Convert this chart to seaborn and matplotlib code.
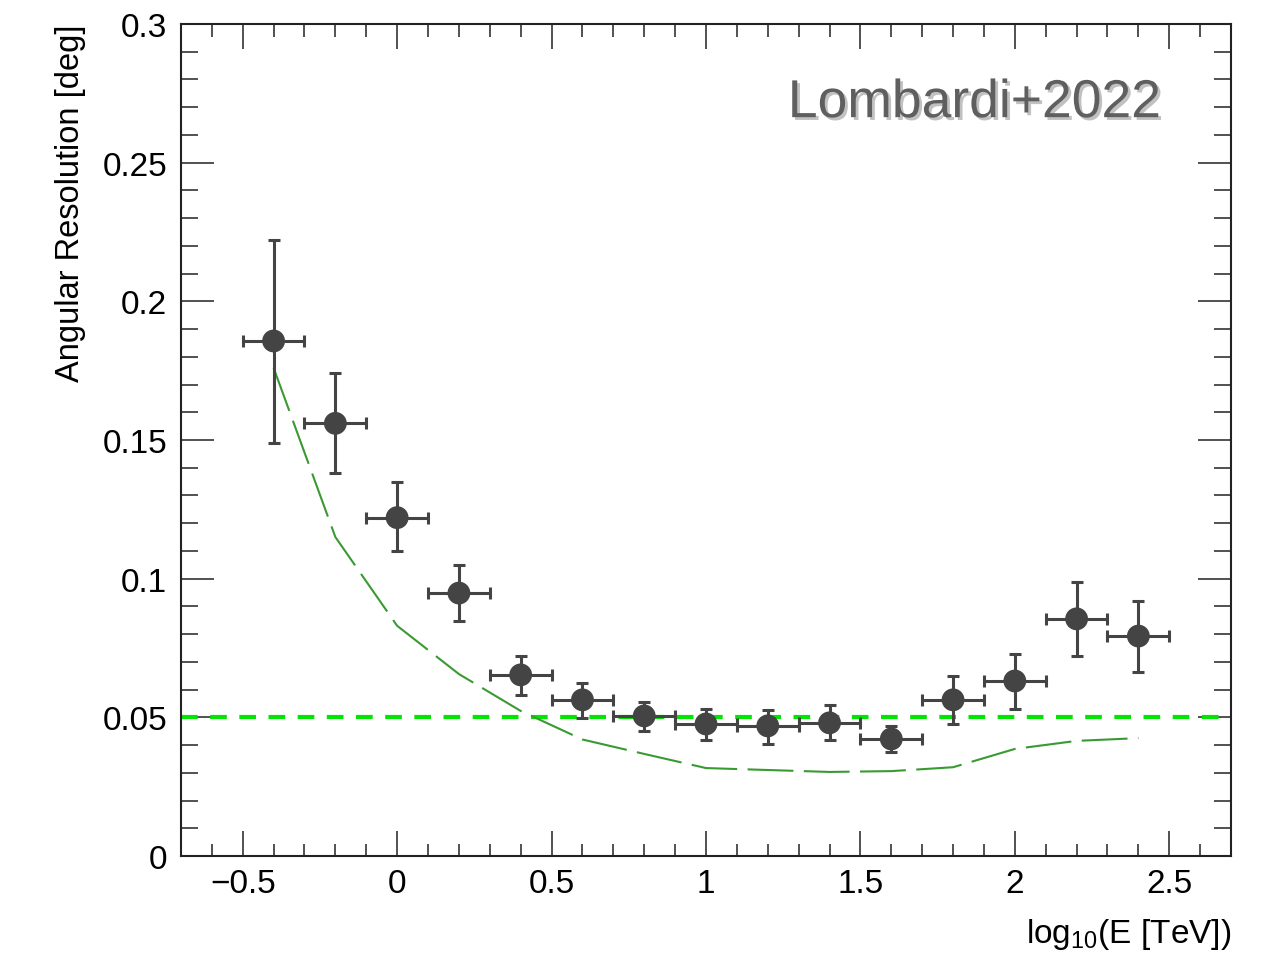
import numpy as np
import pandas as pd
import matplotlib
matplotlib.use("Agg")
import matplotlib.pyplot as plt
import matplotlib.patheffects as pe
from matplotlib.ticker import MultipleLocator
import seaborn as sns

# data
log_e = [-0.4, -0.2, 0.0, 0.2, 0.4, 0.6, 0.8, 1.0, 1.2, 1.4, 1.6, 1.8, 2.0, 2.2, 2.4]
ang_res = [0.1857, 0.156, 0.122, 0.0948, 0.0653, 0.0563, 0.0505, 0.0476, 0.0469,
           0.048, 0.0422, 0.0563, 0.0631, 0.0855, 0.0793]
err_up = [0.222, 0.174, 0.135, 0.105, 0.0721, 0.0624, 0.0555, 0.053, 0.0526,
          0.0545, 0.0469, 0.065, 0.0728, 0.0988, 0.092]
err_lo = [0.149, 0.138, 0.110, 0.0847, 0.058, 0.0498, 0.045, 0.0418, 0.0404,
          0.0418, 0.0375, 0.0476, 0.053, 0.0721, 0.0663]
bin_half = 0.1

# dashed reference curve
curve_y = [0.176, 0.115, 0.083, 0.0656, 0.0523, 0.042, 0.0368, 0.0317, 0.031,
           0.0303, 0.0306, 0.032, 0.0386, 0.0415, 0.0425]
target = 0.05

df = pd.DataFrame({"x": log_e, "y": ang_res, "curve": curve_y})

sns.set_theme(style="ticks")
plt.rcParams["font.family"] = ["Liberation Sans", "DejaVu Sans"]
plt.rcParams["mathtext.fontset"] = "custom"
plt.rcParams["mathtext.rm"] = "Liberation Sans"
plt.rcParams["mathtext.it"] = "Liberation Sans"

fig = plt.figure(figsize=(12.77, 9.54), dpi=100)
ax = fig.add_axes([0.1417, 0.1017, 0.8223, 0.8721])

ax.axhline(target, color="#00e600", lw=3, dashes=(4, 3))

sns.lineplot(data=df, x="x", y="curve", ax=ax, color="#3a9a32", lw=1.5,
             dashes=False, legend=False)
ax.lines[-1].set_dashes((22, 5))

yerr = [np.array(ang_res) - np.array(err_lo), np.array(err_up) - np.array(ang_res)]
ax.errorbar(log_e, ang_res, xerr=bin_half, yerr=yerr, fmt="none",
            ecolor="#444444", elinewidth=2.2, capsize=4, capthick=2.2, zorder=3)
sns.scatterplot(data=df, x="x", y="y", ax=ax, color="#444444", s=270,
                edgecolor="none", zorder=4)

ax.set_xlim(-0.7, 2.7)
ax.set_ylim(0, 0.3)
ax.xaxis.set_major_locator(MultipleLocator(0.5))
ax.xaxis.set_minor_locator(MultipleLocator(0.1))
ax.yaxis.set_major_locator(MultipleLocator(0.05))
ax.yaxis.set_minor_locator(MultipleLocator(0.01))
ax.set_xticks([-0.5, 0, 0.5, 1, 1.5, 2, 2.5])
ax.set_xticklabels(["\u22120.5", "0", "0.5", "1", "1.5", "2", "2.5"])
ax.set_yticks([0, 0.05, 0.1, 0.15, 0.2, 0.25, 0.3])
ax.set_yticklabels(["0", "0.05", "0.1", "0.15", "0.2", "0.25", "0.3"])

ax.tick_params(axis="both", which="both", direction="in", top=True, right=True,
               color="#222222", labelcolor="black", labelsize=24, width=1.1)
ax.tick_params(axis="x", which="major", length=18, pad=9)
ax.tick_params(axis="x", which="minor", length=9)
ax.tick_params(axis="y", which="major", length=24, pad=10)
ax.tick_params(axis="y", which="minor", length=12)
for s in ax.spines.values():
    s.set_linewidth(1.5)
    s.set_color("#222222")

ax.set_xlabel(r"log$_{\mathregular{10}}$(E [TeV])", fontsize=24, loc="right",
              color="black")
ax.set_ylabel("Angular Resolution [deg]", fontsize=23.5, loc="top", color="black")
ax.yaxis.set_label_coords(-0.09, 1.0)
ax.xaxis.set_label_coords(1.0, -0.072)

ax.text(0.934, 0.888, "Lombardi+2022", transform=ax.transAxes, ha="right",
        va="baseline", fontsize=38.5, color="#5f5f5f",
        path_effects=[pe.withSimplePatchShadow(offset=(2, -2), shadow_rgbFace="#999999", alpha=0.6)])

fig.savefig("out.png", dpi=100)
